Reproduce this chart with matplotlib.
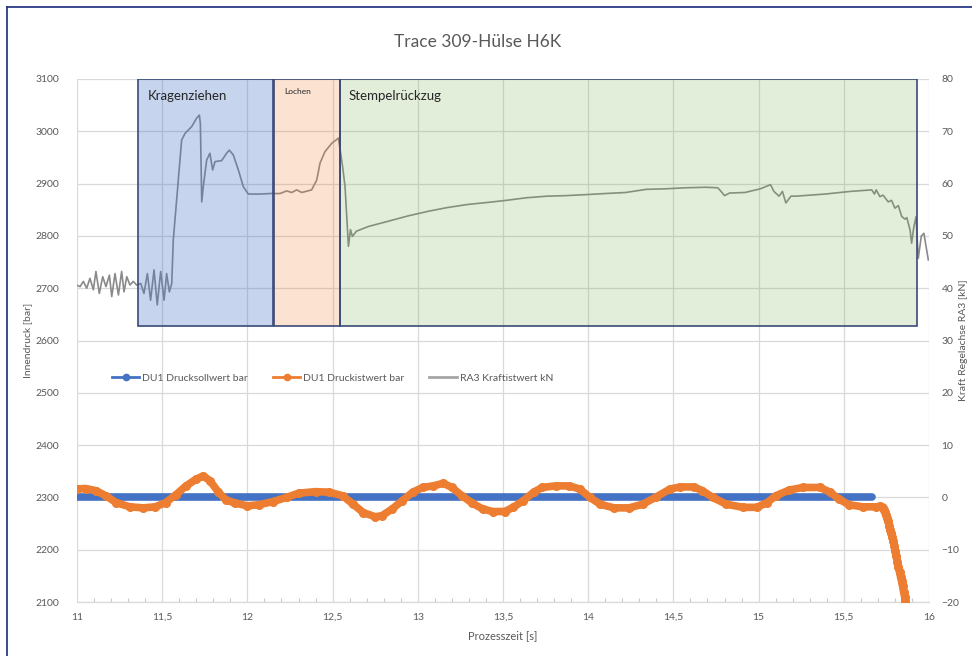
import matplotlib
matplotlib.use("Agg")
import matplotlib.pyplot as plt
from matplotlib.patches import Rectangle
from matplotlib.lines import Line2D
from matplotlib.ticker import MultipleLocator, FuncFormatter

plt.rcParams['font.family'] = ['Lato', 'DejaVu Sans']

# ---- data -------------------------------------------------------------
# DU1 Drucksollwert (set point), bar
soll_t = [11.0, 15.665]
soll_bar = [2300, 2300]

# DU1 Druckistwert (actual pressure), bar
ist_t = [11.00, 11.05, 11.11, 11.17, 11.23, 11.31, 11.39, 11.46, 11.52, 11.58,
         11.64, 11.70, 11.74, 11.78, 11.83, 11.875, 11.93, 12.00, 12.07, 12.15,
         12.23, 12.30, 12.40, 12.48, 12.56, 12.62, 12.68, 12.75, 12.79, 12.85,
         12.91, 12.97, 13.03, 13.09, 13.15, 13.20, 13.26, 13.32, 13.38, 13.44,
         13.51, 13.56, 13.62, 13.68, 13.73, 13.81, 13.89, 13.95, 14.01, 14.07,
         14.15, 14.24, 14.32, 14.40, 14.48, 14.54, 14.62, 14.67, 14.73, 14.81,
         14.91, 14.99, 15.05, 15.10, 15.18, 15.26, 15.36, 15.42, 15.47, 15.53,
         15.61, 15.69, 15.712, 15.722, 15.730, 15.737, 15.743, 15.749, 15.755,
         15.761, 15.767, 15.773, 15.779, 15.785, 15.791, 15.797, 15.803, 15.809,
         15.815, 15.821, 15.827, 15.833, 15.839, 15.845, 15.851, 15.857, 15.862]
ist_bar = [2316, 2317, 2313, 2303, 2290, 2282, 2280, 2282, 2290, 2305,
           2322, 2335, 2341, 2332, 2310, 2295, 2289, 2284, 2286, 2292,
           2300, 2308, 2311, 2310, 2303, 2287, 2271, 2263, 2265, 2278,
           2294, 2310, 2319, 2322, 2327, 2319, 2303, 2289, 2278, 2273,
           2273, 2281, 2294, 2310, 2319, 2322, 2322, 2316, 2300, 2287,
           2280, 2280, 2287, 2301, 2316, 2320, 2320, 2313, 2300, 2287,
           2281, 2281, 2290, 2303, 2314, 2319, 2319, 2310, 2297, 2286,
           2282, 2282, 2283, 2281, 2279, 2276, 2272, 2266, 2260,
           2254, 2246, 2238, 2231, 2224, 2216, 2207, 2197, 2187,
           2177, 2166, 2157, 2148, 2140, 2130, 2120, 2110, 2101]

# RA3 Kraftistwert (axis force), kN
kraft_t = [11.005, 11.018, 11.037, 11.057, 11.076, 11.096, 11.111, 11.131, 11.151,
           11.170, 11.190, 11.204, 11.223, 11.243, 11.262, 11.276, 11.292, 11.311,
           11.330, 11.350, 11.374, 11.393, 11.413, 11.432, 11.452, 11.471, 11.491,
           11.511, 11.526, 11.542, 11.556, 11.565, 11.614, 11.634, 11.673, 11.702,
           11.718, 11.724, 11.732, 11.741, 11.761, 11.780, 11.796, 11.810, 11.849,
           11.878, 11.894, 11.917, 11.947, 11.976, 12.005, 12.074, 12.133, 12.191,
           12.231, 12.260, 12.289, 12.319, 12.377, 12.407, 12.426, 12.455, 12.495,
           12.534, 12.559, 12.573, 12.593, 12.605, 12.616, 12.64, 12.71, 12.826,
           12.94, 13.06, 13.17, 13.29, 13.41, 13.52, 13.64, 13.76, 13.87, 13.99,
           14.10, 14.22, 14.34, 14.45, 14.57, 14.69, 14.76, 14.78, 14.80, 14.83,
           14.92, 15.01, 15.07, 15.09, 15.12, 15.14, 15.16, 15.19, 15.22, 15.39,
           15.536, 15.664, 15.68, 15.69, 15.712, 15.73, 15.761, 15.78, 15.80,
           15.82, 15.84, 15.86, 15.87, 15.889, 15.898, 15.91, 15.924, 15.937,
           15.955, 15.97, 15.996]
kraft_kn = [40.5, 40.3, 41.3, 40.0, 41.9, 39.7, 43.2, 39.0, 42.2,
            40.3, 42.5, 38.4, 42.8, 38.7, 43.2, 39.3, 42.2, 40.6,
            41.3, 40.6, 40.9, 39.0, 42.8, 37.7, 43.5, 36.8, 43.2,
            37.7, 42.8, 39.3, 40.9, 49.2, 68.3, 69.6, 70.9, 72.5,
            73.1, 71.5, 56.5, 59.4, 64.5, 65.8, 62.6, 64.2, 64.4,
            65.8, 66.4, 65.5, 62.6, 59.4, 58.0, 58.0, 58.1, 58.1,
            58.6, 58.3, 58.8, 58.3, 58.8, 60.7, 63.9, 66.1, 67.7,
            68.7, 63.2, 59.4, 48.0, 51.2, 49.9, 50.9, 51.8, 52.8,
            53.8, 54.7, 55.4, 56.0, 56.4, 56.8, 57.3, 57.6, 57.7, 57.9,
            58.1, 58.3, 58.9, 59.0, 59.2, 59.3, 59.2, 58.5, 57.7, 58.2,
            58.3, 59.0, 59.8, 58.5, 57.6, 58.5, 56.3, 57.6, 57.6, 58.0,
            58.5, 58.8, 58.0, 58.8, 57.5, 57.8, 56.5, 56.8, 55.3,
            55.8, 53.7, 53.2, 53.5, 51.1, 48.6, 51.5, 53.7, 45.7,
            50.0, 50.5, 45.4]

# process phases: name, start [s], end [s]
phase_names = ['Kragenziehen', 'Lochen', 'Stempelrückzug']
phase_start = [11.358, 12.156, 12.543]
phase_end = [12.152, 12.543, 15.93]
phase_bottom_kn = 32.8
phase_colors = ['#4472C4', '#ED7D31', '#70AD47']
phase_alpha = [0.30, 0.22, 0.20]

x_ticks = [11, 11.5, 12, 12.5, 13, 13.5, 14, 14.5, 15, 15.5, 16]
series_names = ['DU1 Drucksollwert bar', 'DU1 Druckistwert bar', 'RA3 Kraftistwert kN']

# ---- figure -----------------------------------------------------------
W, H = 972, 656
fig = plt.figure(figsize=(W / 100, H / 100), dpi=100)
fig.patch.set_facecolor('white')

# outer frame (left and top edge)
fig.add_artist(Line2D([7 / W, 7 / W], [0, 1 - 7 / H], transform=fig.transFigure,
                      color='#2b3a86', lw=1.3))
fig.add_artist(Line2D([7 / W, 1], [1 - 7 / H, 1 - 7 / H], transform=fig.transFigure,
                      color='#2b3a86', lw=1.3))

ax = fig.add_axes([77 / W, 1 - 602 / H, (929 - 77) / W, (602 - 79) / H])
ax2 = ax.twinx()

label_col = '#595959'
grid_col = '#d9d9d9'

ax.set_xlim(11, 16)
ax.set_ylim(2100, 3100)
ax2.set_ylim(-20, 80)

ax.set_xticks(x_ticks)
ax.xaxis.set_minor_locator(MultipleLocator(0.1))
ax.yaxis.set_major_locator(MultipleLocator(100))
ax2.yaxis.set_major_locator(MultipleLocator(10))
ax.xaxis.set_major_formatter(FuncFormatter(lambda v, p: ('%g' % v).replace('.', ',')))

ax.grid(True, which='major', color=grid_col, lw=0.9)
ax.set_axisbelow(True)
for a in (ax, ax2):
    for s in a.spines.values():
        s.set_visible(False)
ax.spines['bottom'].set_visible(True)
ax.spines['bottom'].set_color(grid_col)
ax.spines['bottom'].set_linewidth(0.9)

ax.tick_params(axis='both', which='major', length=0, labelsize=7.5, labelcolor=label_col)
ax.tick_params(axis='y', pad=13)
ax.tick_params(axis='x', pad=8)
ax.tick_params(axis='x', which='minor', direction='in', length=3, color='#c8c8c8', width=0.8)
ax2.tick_params(axis='y', length=0, labelsize=7.5, labelcolor=label_col, pad=9)

ax.set_ylabel('Innendruck [bar]', fontsize=7.5, color=label_col, labelpad=2)
ax2.set_ylabel('Kraft Regelachse RA3 [kN]', fontsize=7.5, color=label_col,
               rotation=90, labelpad=0)
ax.set_xlabel('Prozesszeit [s]', fontsize=8, color=label_col, labelpad=6)

fig.text(478 / W, 1 - 42 / H, 'Trace 309-Hülse H6K', ha='center', va='center',
         fontsize=12.5, color='#595959')

# pressure series
ax.plot(soll_t, soll_bar, color='#4472C4', lw=5.5, solid_capstyle='round', zorder=3)
ax.plot(ist_t, ist_bar, color='#ED7D31', lw=5.5, solid_capstyle='round',
        marker='o', ms=5.5, mec='#ED7D31', zorder=4)

# force series
ax2.plot(kraft_t, kraft_kn, color='#8a8a8a', lw=1.2, zorder=2)

# phase boxes
for name, x0, x1, c, al in zip(phase_names, phase_start, phase_end, phase_colors, phase_alpha):
    ax2.add_patch(Rectangle((x0, phase_bottom_kn), x1 - x0, 80 - phase_bottom_kn,
                            facecolor=c, alpha=al, edgecolor='none', zorder=3))
    ax2.add_patch(Rectangle((x0, phase_bottom_kn), x1 - x0, 80 - phase_bottom_kn,
                            facecolor='none', edgecolor='#3a4a78', lw=1.2, zorder=4))

ax2.text(phase_start[0] + 0.055, 76.8, phase_names[0], fontsize=9.5, color='#262626',
         ha='left', va='center', zorder=5)
ax2.text(phase_start[1] + 0.06, 77.7, phase_names[1], fontsize=6, color='#262626',
         ha='left', va='center', zorder=5)
ax2.text(phase_start[2] + 0.05, 76.8, phase_names[2], fontsize=9.5, color='#262626',
         ha='left', va='center', zorder=5)

handles = [
    Line2D([], [], color='#4472C4', lw=2, marker='o', ms=4.5),
    Line2D([], [], color='#ED7D31', lw=2, marker='o', ms=4.5),
    Line2D([], [], color='#a5a5a5', lw=2),
]
leg = ax2.legend(handles, series_names, loc='center left',
                 bbox_to_anchor=(112 / W, 1 - 378 / H), bbox_transform=fig.transFigure,
                 ncol=3, frameon=False, fontsize=7.5, handlelength=2.6,
                 handletextpad=0.3, columnspacing=2.4, borderaxespad=0, borderpad=0)
for t in leg.get_texts():
    t.set_color(label_col)

fig.savefig('out.png', dpi=100)
